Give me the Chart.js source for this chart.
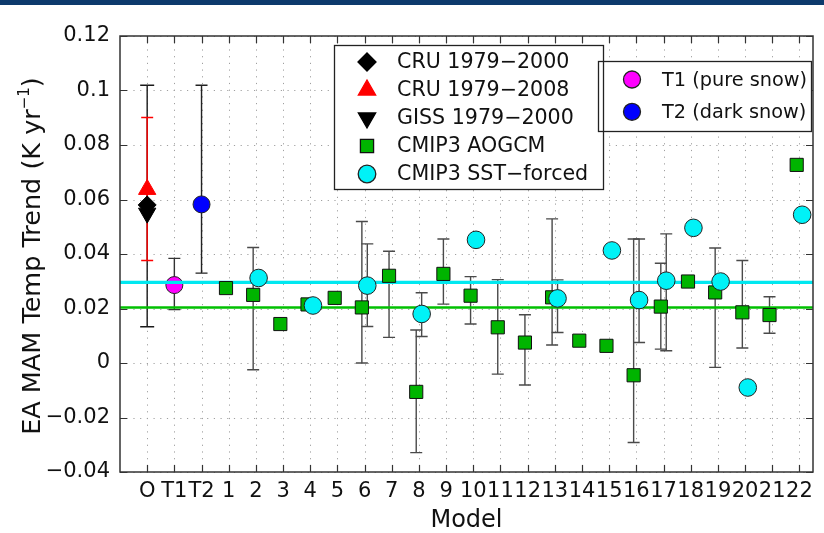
<!DOCTYPE html>
<html>
<head>
<meta charset="utf-8">
<script src="https://cdn.jsdelivr.net/npm/chart.js@4/dist/chart.umd.min.js"></script>
<style>
  html, body { margin: 0; padding: 0; background: #fff; }
</style>
</head>
<body>
<canvas id="chart" width="824" height="533"></canvas>
<script>
const categories = ['O', 'T1', 'T2', '1', '2', '3', '4', '5', '6', '7', '8', '9', '10',
    '11', '12', '13', '14', '15', '16', '17', '18', '19', '20', '21', '22'];
const yTicks = [-0.04, -0.02, 0, 0.02, 0.04, 0.06, 0.08, 0.1, 0.12];

// observations and the two snow runs (x = 0, 1, 2)
const cru2000 = [0.058];
const cru2000Err = [0.0133, 0.1019];
const cru2008 = [0.0637];
const cru2008Err = [0.0376, 0.0901];
const giss2000 = [0.055];
const t1Pure = [0.0286];
const t1Err = [0.0196, 0.0384];
const t2Dark = [0.0582];
const t2Err = [0.0330, 0.1019];

// models 1..22
const aogcm = [0.0275, 0.0250, 0.0143, 0.0215, 0.0239, 0.0204, 0.0320, -0.0106, 0.0327, 0.0247, 0.0131,
    0.0075, 0.0241, 0.0082, 0.0063, -0.0045, 0.0207, 0.0299, 0.0259, 0.0186, 0.0176, 0.0727];
const aogcmLow = [null, -0.0025, null, null, null, 0.0000, 0.0094, -0.0329, 0.0216, 0.0143, -0.0041,
    -0.0081, 0.0066, null, null, -0.0292, 0.0051, null, -0.0016, 0.0055, 0.0109, null];
const aogcmHigh = [null, 0.0424, null, null, null, 0.0519, 0.0410, 0.0121, 0.0455, 0.0317, 0.0306,
    0.0177, 0.0529, null, null, 0.0455, 0.0366, null, 0.0422, 0.0376, 0.0243, null];
const sst = [null, 0.0312, null, 0.0211, null, 0.0284, null, 0.0180, null, 0.0452, null,
    null, 0.0237, null, 0.0413, 0.0231, 0.0302, 0.0496, 0.0299, -0.0090, null, 0.0544];
const sstLow = [null, null, null, null, null, 0.0134, null, 0.0097, null, null, null,
    null, 0.0112, null, null, 0.0075, 0.0045, null, null, null, null, null];
const sstHigh = [null, null, null, null, null, 0.0437, null, 0.0258, null, null, null,
    null, 0.0305, null, null, 0.0455, 0.0474, null, null, null, null, null];
const aogcmMean = 0.0204;
const sstMean = 0.0296;

const FONT = 'DejaVu Sans';
Chart.defaults.font.family = FONT;

const aoOffset = -0.1;
const sstOffset = 0.1;

const aoPoints = aogcm.map((v, i) => ({ x: i + 3 + aoOffset, y: v }));
const sstPoints = sst.map((v, i) => (v === null ? null : { x: i + 3 + sstOffset, y: v })).filter(Boolean);

function fmtY(v) {
    const r = Math.round(v * 100) / 100;
    return String(r).replace('-', '\u2212');
}

const chartPlugin = {
    id: 'matlabLook',
    beforeDraw(chart) {
        const { ctx } = chart;
        ctx.save();
        ctx.fillStyle = '#0d3a6c';
        ctx.fillRect(0, 0, chart.width, 5);
        ctx.restore();
    },
    beforeDatasetsDraw(chart) {
        const { ctx, chartArea: a, scales } = chart;
        ctx.save();
        // dotted grid
        ctx.strokeStyle = '#a0a0a0';
        ctx.lineWidth = 1;
        ctx.setLineDash([1.2, 5.5]);
        ctx.beginPath();
        categories.forEach((c, i) => {
            const x = Math.round(scales.x.getPixelForValue(i)) + 0.5;
            ctx.moveTo(x, a.top);
            ctx.lineTo(x, a.bottom);
        });
        yTicks.forEach((v) => {
            const y = Math.round(scales.y.getPixelForValue(v)) + 0.5;
            ctx.moveTo(a.left, y);
            ctx.lineTo(a.right, y);
        });
        ctx.stroke();
        ctx.setLineDash([]);

        // error bars
        const bar = (xv, lo, hi, color, cap, width) => {
            const x = scales.x.getPixelForValue(xv);
            const y1 = scales.y.getPixelForValue(lo);
            const y2 = scales.y.getPixelForValue(hi);
            ctx.strokeStyle = color;
            ctx.lineWidth = width;
            ctx.beginPath();
            ctx.moveTo(x, y1);
            ctx.lineTo(x, y2);
            ctx.moveTo(x - cap, y1);
            ctx.lineTo(x + cap, y1);
            ctx.moveTo(x - cap, y2);
            ctx.lineTo(x + cap, y2);
            ctx.stroke();
        };
        bar(0, cru2000Err[0], cru2000Err[1], '#1a1a1a', 7, 1.4);
        bar(0, cru2008Err[0], cru2008Err[1], '#ff0000', 6, 1.4);
        bar(1, t1Err[0], t1Err[1], '#333', 6, 1.4);
        bar(2, t2Err[0], t2Err[1], '#222', 6, 1.4);
        aogcm.forEach((v, i) => {
            if (aogcmLow[i] !== null) bar(i + 3 + aoOffset, aogcmLow[i], aogcmHigh[i], '#4a4a4a', 6, 1.4);
            if (sstLow[i] !== null) bar(i + 3 + sstOffset, sstLow[i], sstHigh[i], '#4a4a4a', 6, 1.4);
        });
        ctx.restore();
    },
    afterDatasetsDraw(chart, args, opts) {
        const { ctx, chartArea: a, scales } = chart;
        ctx.save();
        // frame and inward ticks
        ctx.strokeStyle = '#333';
        ctx.lineWidth = 1.5;
        ctx.strokeRect(a.left, a.top, a.right - a.left, a.bottom - a.top);
        ctx.lineWidth = 1.2;
        ctx.beginPath();
        categories.forEach((c, i) => {
            const x = Math.round(scales.x.getPixelForValue(i)) + 0.5;
            ctx.moveTo(x, a.bottom);
            ctx.lineTo(x, a.bottom - 7);
            ctx.moveTo(x, a.top);
            ctx.lineTo(x, a.top + 7);
        });
        yTicks.forEach((v) => {
            const y = Math.round(scales.y.getPixelForValue(v)) + 0.5;
            ctx.moveTo(a.left, y);
            ctx.lineTo(a.left + 7, y);
            ctx.moveTo(a.right, y);
            ctx.lineTo(a.right - 7, y);
        });
        ctx.stroke();

        // legends
        const drawBox = (box, fill, stroke) => {
            ctx.lineWidth = 1.3;
            ctx.strokeStyle = '#222';
            ctx.fillStyle = '#fff';
            if (fill) ctx.fillRect(box.x, box.y, box.w, box.h);
            if (stroke) ctx.strokeRect(box.x + 0.5, box.y + 0.5, box.w, box.h);
        };
        const drawEntries = (box) => {
            box.items.forEach((dsIndex, k) => {
                const ds = chart.data.datasets[dsIndex];
                const y = box.firstRow + k * box.rowStep;
                ctx.fillStyle = ds.backgroundColor;
                ctx.strokeStyle = ds.borderColor;
                Chart.helpers.drawPoint(ctx, {
                    pointStyle: ds.pointStyle,
                    radius: ds.pointRadius,
                    rotation: ds.rotation || 0,
                    borderWidth: ds.borderWidth,
                }, box.markerX, y);
                ctx.fillStyle = '#111';
                ctx.font = box.fontSize + 'px ' + FONT;
                ctx.textBaseline = 'middle';
                ctx.textAlign = 'left';
                ctx.fillText(ds.label, box.textX, y + 1);
            });
        };
        const [b1, b2] = opts.boxes;
        drawBox(b2, true, false);
        drawBox(b1, true, true);
        drawBox(b2, false, true);
        drawEntries(b1);
        drawEntries(b2);

        // axis titles
        ctx.fillStyle = '#111';
        ctx.textAlign = 'center';
        ctx.textBaseline = 'alphabetic';
        ctx.font = '24px ' + FONT;
        ctx.fillText('Model', (a.left + a.right) / 2, 527);

        ctx.translate(40, (a.top + a.bottom) / 2 + 2);
        ctx.rotate(-Math.PI / 2);
        const main = 'EA MAM Temp Trend (K yr';
        const sup = '\u22121';
        const close = ')';
        ctx.font = '25.5px ' + FONT;
        const wMain = ctx.measureText(main).width;
        const wClose = ctx.measureText(close).width;
        ctx.font = '15px ' + FONT;
        const wSup = ctx.measureText(sup).width;
        const x0 = -(wMain + wSup + wClose) / 2;
        ctx.textAlign = 'left';
        ctx.font = '25.5px ' + FONT;
        ctx.fillText(main, x0, 0);
        ctx.font = '15px ' + FONT;
        ctx.fillText(sup, x0 + wMain, -11);
        ctx.font = '25.5px ' + FONT;
        ctx.fillText(close, x0 + wMain + wSup, 0);
        ctx.restore();
    },
};

new Chart(document.getElementById('chart'), {
    type: 'scatter',
    data: {
        datasets: [
            { label: 'CRU 1979\u22122000', data: [{ x: 0, y: cru2000[0] }], pointStyle: 'rectRot', pointRadius: 9,
              backgroundColor: '#000', borderColor: '#000', borderWidth: 1, order: 3 },
            { label: 'CRU 1979\u22122008', data: [{ x: 0, y: cru2008[0] }], pointStyle: 'triangle', pointRadius: 10,
              backgroundColor: '#ff0000', borderColor: '#ff0000', borderWidth: 1, order: 4 },
            { label: 'GISS 1979\u22122000', data: [{ x: 0, y: giss2000[0] }], pointStyle: 'triangle', pointRadius: 10,
              rotation: 180, backgroundColor: '#000', borderColor: '#000', borderWidth: 1, order: 2 },
            { label: 'CMIP3 AOGCM', data: aoPoints, pointStyle: 'rect', pointRadius: 9.3,
              backgroundColor: '#00b400', borderColor: '#111', borderWidth: 1, order: 1 },
            { label: 'CMIP3 SST\u2212forced', data: sstPoints, pointStyle: 'circle', pointRadius: 8.8,
              backgroundColor: '#00f2f7', borderColor: '#222', borderWidth: 1, order: 0 },
            { label: 'T1 (pure snow)', data: [{ x: 1, y: t1Pure[0] }], pointStyle: 'circle', pointRadius: 8.5,
              backgroundColor: '#ff00ff', borderColor: '#222', borderWidth: 1, order: 7 },
            { label: 'T2 (dark snow)', data: [{ x: 2, y: t2Dark[0] }], pointStyle: 'circle', pointRadius: 8.5,
              backgroundColor: '#0000ff', borderColor: '#222', borderWidth: 1, order: 5 },
            { label: 'AOGCM mean', data: [{ x: -1, y: aogcmMean }, { x: 24.5, y: aogcmMean }], showLine: true,
              pointRadius: 0, borderColor: '#00c000', borderWidth: 2.5, order: 6 },
            { label: 'SST mean', data: [{ x: -1, y: sstMean }, { x: 24.5, y: sstMean }], showLine: true,
              pointRadius: 0, borderColor: '#00e8f0', borderWidth: 3.2, order: 6 },
        ],
    },
    options: {
        responsive: false,
        animation: false,
        events: [],
        layout: { padding: { top: 36, right: 6, left: 0, bottom: 0 } },
        plugins: {
            legend: { display: false },
            tooltip: { enabled: false },
            matlabLook: {
                boxes: [
                    { x: 334, y: 45, w: 269, h: 144, items: [0, 1, 2, 3, 4], firstRow: 62, rowStep: 28,
                      markerX: 367, textX: 397, fontSize: 20.6 },
                    { x: 598, y: 61, w: 213, h: 70, items: [5, 6], firstRow: 79.5, rowStep: 32.3,
                      markerX: 632, textX: 662, fontSize: 19.3 },
                ],
            },
        },
        scales: {
            x: {
                type: 'linear',
                min: -1,
                max: 24.5,
                afterBuildTicks: (s) => { s.ticks = categories.map((c, i) => ({ value: i })); },
                afterFit: (s) => { s.height = 61; },
                ticks: {
                    callback: (v) => categories[v] ?? '',
                    autoSkip: false,
                    maxRotation: 0,
                    minRotation: 0,
                    padding: 7,
                    color: '#111',
                    font: { size: 21 },
                },
                grid: { display: false, drawTicks: false },
                border: { display: false },
            },
            y: {
                min: -0.04,
                max: 0.12,
                afterBuildTicks: (s) => { s.ticks = yTicks.map((v) => ({ value: v })); },
                afterFit: (s) => { s.width = 120; },
                ticks: {
                    callback: (v) => fmtY(v),
                    padding: 10,
                    color: '#111',
                    font: { size: 21 },
                },
                grid: { display: false, drawTicks: false },
                border: { display: false },
            },
        },
    },
    plugins: [chartPlugin],
});
</script>
</body>
</html>
